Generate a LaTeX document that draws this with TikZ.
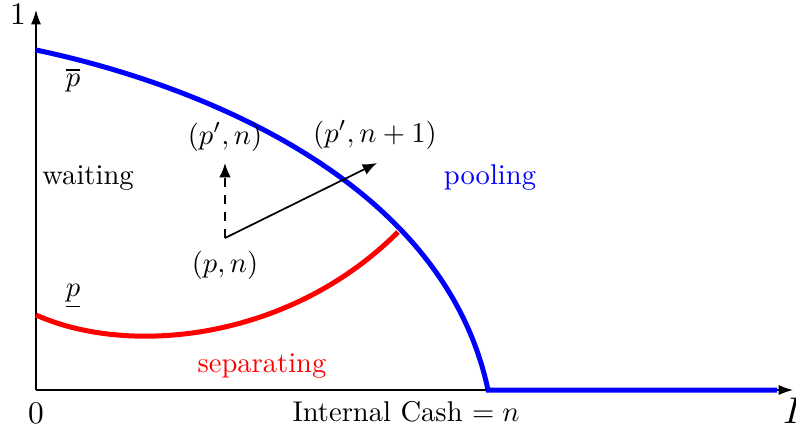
\documentclass[tikz,border=0pt]{standalone}
\usetikzlibrary{arrows.meta}
\begin{document}
\begin{tikzpicture}[x=0.35pt,y=-0.35pt,
  axis/.style={line width=0.4pt,-{Latex[length=5pt,width=3.5pt]}},
  vec/.style={line width=0.6pt,-{Latex[length=5pt,width=4pt]}},
  pool/.style={blue,line width=1.75pt},
  sep/.style={red,line width=1.75pt},
  lbl/.style={inner sep=0pt}]
\useasboundingbox (0,0) rectangle (796,434);
% axes
\coordinate (O) at (36,390);
\coordinate (Ytop) at (36,10);
\coordinate (Xend) at (793,390);
\draw[axis] (O) -- (Ytop);
\draw[axis] (O) -- (Xend);
% curves
\coordinate (B0) at (36,50);
\coordinate (B1) at (488,390);
\coordinate (B2) at (777,390);
\draw[pool] (B0) .. controls (180,80) and (442,172) .. (B1) -- (B2);
\coordinate (R0) at (36,315);
\coordinate (R1) at (398,232);
\draw[sep] (R0) .. controls (130,357) and (290,340) .. (R1);
% vectors
\coordinate (P) at (225,238);
\coordinate (Pu) at (225,163);
\coordinate (Pr) at (377,163);
\draw[vec,dashed] (P) -- (Pu);
\draw[vec] (P) -- (Pr);
% labels
\node[lbl,scale=1.1] (one) at (18,14) {$1$};
\node[lbl,scale=1.1] (zero) at (36,413) {$0$};
\node[lbl] (xl) at (406,412) {Internal Cash $= n$};
\node[lbl,scale=1.3] (il) at (793,411) {$I$};
\node[lbl] (pbar) at (73,80) {$\overline{p}$};
\node[lbl] (pund) at (73,296) {$\underline{p}$};
\node[lbl] (wait) at (88,178) {waiting};
\node[lbl,blue] (pooll) at (490,178) {pooling};
\node[lbl,red] (sepl) at (262,366) {separating};
\node[lbl] (pn1) at (225,137) {$(p',n)$};
\node[lbl] (pn2) at (375,135) {$(p',n+1)$};
\node[lbl] (pn) at (225,265) {$(p,n)$};
\end{tikzpicture}
\end{document}
